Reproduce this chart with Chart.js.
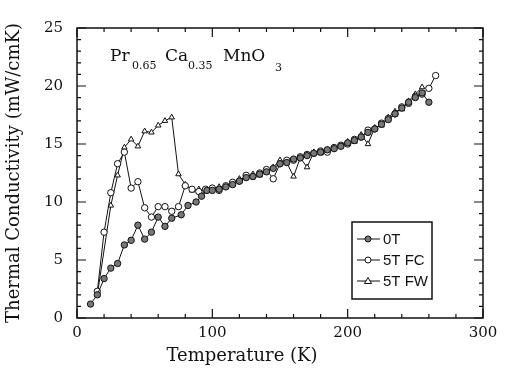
<!DOCTYPE html>
<html><head><meta charset="utf-8">
<script src="https://cdn.jsdelivr.net/npm/chart.js@4.4.1/dist/chart.umd.min.js"></script>
<style>html,body{margin:0;padding:0;background:#fff}#wrap{width:507px;height:371px}</style>
</head><body><div id="wrap"><canvas id="c" width="507" height="371"></canvas></div>
<script>
const xTicks = [0, 100, 200, 300];
const yTicks = [0, 5, 10, 15, 20, 25];
const seriesNames = ['0T', '5T FC', '5T FW'];
const xTitle = 'Temperature (K)';
const yTitle = 'Thermal Conductivity (mW/cmK)';

const T_0T = [10,15,20,25,30,35,40,45,50,55,60,65,70,77,82,88,92,96,100,105,110,115,120,125,130,135,140,145,150,155,160,165,170,175,180,185,190,195,200,205,210,215,220,225,230,235,240,245,250,255,260];
const K_0T = [1.2,2.0,3.4,4.3,4.7,6.3,6.7,8.0,6.8,7.4,8.7,7.9,8.6,8.9,9.7,10.0,10.5,11.0,11.0,11.1,11.3,11.5,11.8,12.1,12.2,12.4,12.6,12.9,13.3,13.4,13.7,13.8,14.0,14.2,14.3,14.5,14.6,14.8,15.1,15.3,15.6,16.0,16.3,16.7,17.1,17.6,18.1,18.6,19.0,19.4,18.6];

const T_FC = [15,20,25,30,35,40,45,50,55,60,65,70,75,80,85,90,95,100,105,110,115,120,125,130,135,140,145,150,155,160,165,170,175,180,185,190,195,200,205,210,215,220,225,230,235,240,245,250,255,260,265];
const K_FC = [2.3,7.4,10.8,13.3,14.3,11.2,11.75,9.5,8.7,9.6,9.6,9.2,9.6,11.4,11.1,10.9,11.1,11.2,11.0,11.4,11.7,11.8,12.3,12.2,12.5,12.8,12.0,13.3,13.6,13.6,13.9,14.1,14.2,14.4,14.3,14.7,14.9,15.0,15.4,15.6,16.2,16.3,16.8,17.2,17.6,18.2,18.5,19.1,19.3,19.8,20.9];

const T_FW = [15,25,30,35,40,45,50,55,60,65,70,75,80,85,90,95,100,105,110,115,120,125,130,135,140,145,150,155,160,165,170,175,180,185,190,195,200,205,210,215,220,225,230,235,240,245,250,255];
const K_FW = [2.0,9.7,12.3,14.7,15.4,14.8,16.1,16.0,16.6,17.0,17.3,12.4,11.5,11.0,11.1,10.9,11.2,11.3,11.3,11.6,12.0,12.1,12.4,12.3,12.7,13.0,13.6,13.4,12.2,13.8,13.0,14.3,14.2,14.5,14.7,14.8,15.2,15.2,15.8,15.0,16.4,16.6,17.3,17.8,18.0,18.7,19.3,19.9];

const pts = (xs, ys) => xs.map((x, i) => ({x, y: ys[i]}));
const SERIF = '"DejaVu Serif", "Liberation Serif", serif';

const frame = {
  id: 'frame',
  afterDraw(chart) {
    const {ctx, chartArea: a, scales: {x, y}} = chart;
    ctx.save();
    ctx.strokeStyle = '#111';
    ctx.lineWidth = 1.5;
    ctx.strokeRect(a.left, a.top, a.right - a.left, a.bottom - a.top);
    ctx.lineWidth = 1.2;
    ctx.beginPath();
    for (let v = xTicks[0]; v <= xTicks[xTicks.length - 1]; v += 20) {
      const px = x.getPixelForValue(v);
      const len = v % 100 === 0 ? 9 : 4;
      ctx.moveTo(px, a.bottom); ctx.lineTo(px, a.bottom - len);
      ctx.moveTo(px, a.top); ctx.lineTo(px, a.top + len);
    }
    for (let v = yTicks[0]; v <= yTicks[yTicks.length - 1]; v += 1) {
      const py = y.getPixelForValue(v);
      const len = v % 5 === 0 ? 9 : 4;
      ctx.moveTo(a.left, py); ctx.lineTo(a.left + len, py);
      ctx.moveTo(a.right, py); ctx.lineTo(a.right - len, py);
    }
    ctx.stroke();

    // x axis title
    ctx.fillStyle = '#111';
    ctx.font = '18px ' + SERIF;
    ctx.textAlign = 'center';
    ctx.textBaseline = 'middle';
    ctx.fillText(xTitle, a.left + 165, a.bottom + 38);

    // formula label
    ctx.textAlign = 'left';
    ctx.textBaseline = 'alphabetic';
    const big = '17px ' + SERIF, small = '11px ' + SERIF;
    const by = a.top + 33, sy = by + 8;
    const parts = [['Pr', big, by, 33], ['0.65', small, sy, 55], ['Ca', big, by, 88], ['0.35', small, sy, 111], ['MnO', big, by, 146], ['3', small, sy + 2, 198]];
    for (const [t, f, yy, off] of parts) {
      ctx.font = f; ctx.fillText(t, a.left + off, yy);
    }

    // legend
    const lx = 352, ly = 222, lw = 80, lh = 77;
    ctx.lineWidth = 1.5;
    ctx.strokeRect(lx, ly, lw, lh);
    ctx.font = '15px "Liberation Sans Narrow", "Liberation Sans", sans-serif';
    ctx.textBaseline = 'middle';
    chart.data.datasets.forEach((ds, i) => {
      const ry = ly + 17 + i * 21;
      ctx.strokeStyle = '#111'; ctx.lineWidth = 1;
      ctx.beginPath(); ctx.moveTo(lx + 5, ry); ctx.lineTo(lx + 28, ry); ctx.stroke();
      const mx = lx + 16;
      ctx.fillStyle = ds.pointBackgroundColor;
      ctx.beginPath();
      if (ds.pointStyle === 'triangle') {
        ctx.moveTo(mx, ry - 3.5); ctx.lineTo(mx + 3.5, ry + 2.5); ctx.lineTo(mx - 3.5, ry + 2.5); ctx.closePath();
      } else {
        ctx.arc(mx, ry, 3, 0, Math.PI * 2);
      }
      ctx.fill(); ctx.stroke();
      ctx.fillStyle = '#111';
      ctx.fillText(ds.label, lx + 31, ry + 1);
    });
    ctx.restore();
  }
};

const mk = (label, data, style, fill) => ({
  label, data, showLine: true,
  borderColor: '#111', borderWidth: 1,
  pointStyle: style, pointRadius: 3.2, pointBorderWidth: 1,
  pointBackgroundColor: fill, pointBorderColor: '#111',
  tension: 0
});

new Chart(document.getElementById('c'), {
  type: 'scatter',
  data: {datasets: [
    mk(seriesNames[0], pts(T_0T, K_0T), 'circle', '#777'),
    mk(seriesNames[1], pts(T_FC, K_FC), 'circle', '#fff'),
    mk(seriesNames[2], pts(T_FW, K_FW), 'triangle', '#fff')
  ]},
  options: {
    responsive: false, animation: false,
    layout: {padding: {left: 0, right: 24, top: 28, bottom: 0}},
    plugins: {legend: {display: false}, tooltip: {enabled: false}},
    scales: {
      x: {
        type: 'linear', min: 0, max: 300,
        afterBuildTicks: s => { s.ticks = xTicks.map(v => ({value: v})); },
        afterFit: s => { s.height = 53; },
        grid: {display: false, drawTicks: false},
        border: {display: false},
        ticks: {color: '#111', font: {family: SERIF, size: 15}, padding: 6, maxRotation: 0},
        title: {display: false}
      },
      y: {
        min: 0, max: 25,
        afterBuildTicks: s => { s.ticks = yTicks.map(v => ({value: v})); },
        afterFit: s => { s.width = 77; },
        grid: {display: false, drawTicks: false},
        border: {display: false},
        ticks: {color: '#111', font: {family: SERIF, size: 15}, padding: 14},
        title: {display: true, text: yTitle, color: '#111', font: {family: SERIF, size: 18}, padding: {bottom: 1}}
      }
    }
  },
  plugins: [frame]
});
</script></body></html>
